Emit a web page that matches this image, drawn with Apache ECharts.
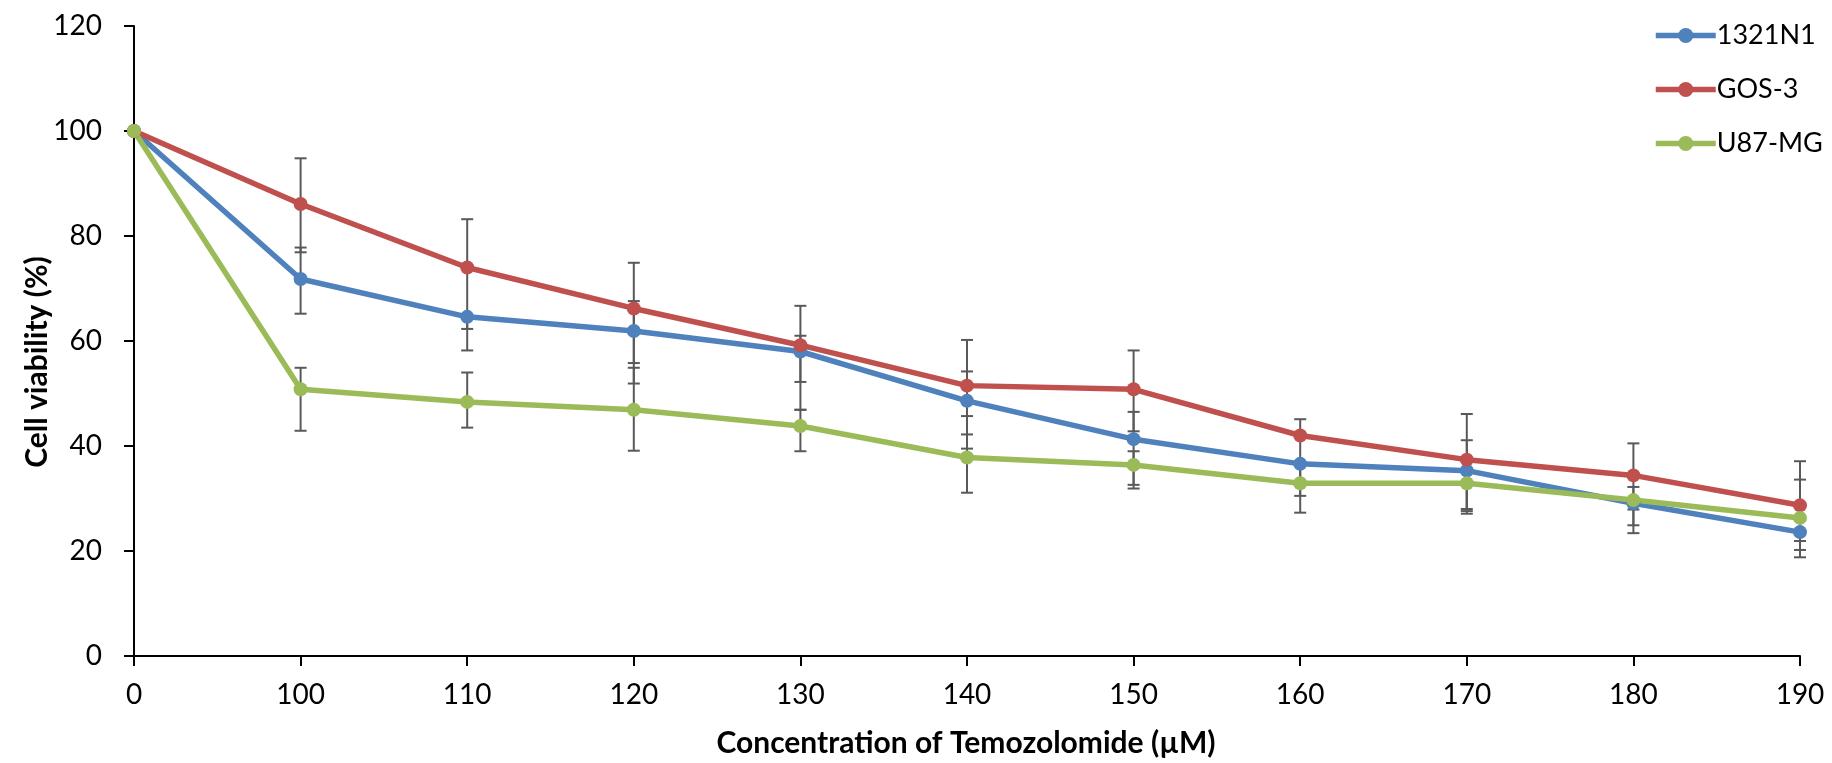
<!DOCTYPE html>
<html>
<head>
<meta charset="utf-8">
<script src="https://cdn.jsdelivr.net/npm/echarts@6/dist/echarts.min.js"></script>
<style>
  html, body { margin: 0; padding: 0; background: #fff; }
  #chart { width: 1832px; height: 763px; }
</style>
</head>
<body>
<div id="chart"></div>
<script>
// Temozolomide concentrations (µM) on the category axis
const categories = ['0', '100', '110', '120', '130', '140', '150', '160', '170', '180', '190'];

// Mean cell viability (%) per cell line
const viability1321N1 = [100, 71.8, 64.6, 61.9, 58.0, 48.6, 41.3, 36.6, 35.3, 29.1, 23.6];
const viabilityGOS3   = [100, 86.1, 74.0, 66.2, 59.2, 51.5, 50.8, 42.0, 37.4, 34.4, 28.7];
const viabilityU87MG  = [100, 50.8, 48.4, 46.9, 43.8, 37.8, 36.4, 32.9, 32.9, 29.7, 26.3];

// Error bar bounds (lower / upper) per cell line
const low1321N1  = [100, 65.2, 58.2, 55.8, 46.9, 45.7, 32.6, 27.3, 27.6, 23.4, 18.8];
const high1321N1 = [100, 77.8, 64.6, 67.6, 61.0, 54.2, 46.5, 36.6, 41.1, 29.1, 23.6];
const lowGOS3    = [100, 76.9, 62.3, 51.9, 52.2, 39.5, 42.8, 30.5, 28.0, 27.9, 20.2];
const highGOS3   = [100, 94.8, 83.2, 74.9, 66.7, 60.2, 58.2, 45.1, 46.1, 40.5, 37.1];
const lowU87MG   = [100, 42.9, 43.5, 39.1, 39.0, 31.1, 31.9, 32.9, 27.1, 24.9, 21.9];
const highU87MG  = [100, 54.9, 54.0, 54.9, 46.9, 42.2, 39.0, 32.9, 32.9, 32.2, 33.6];

// Y axis ticks
const yMin = 0, yMax = 120, yStep = 20;

const seriesNames = ['1321N1', 'GOS-3', 'U87-MG'];
const seriesColors = ['#4F81BD', '#C0504D', '#9BBB59'];
const seriesValues = [viability1321N1, viabilityGOS3, viabilityU87MG];
const seriesLow = [low1321N1, lowGOS3, lowU87MG];
const seriesHigh = [high1321N1, highGOS3, highU87MG];

const FONT = 'Lato, "Open Sans", sans-serif';
const BAR_COLOR = '#595959';
const CAP = 6;

// Vertical whisker with end caps; a cap sitting on the mean is hidden under the marker, so skip it
function errorBarItem(params, api) {
  const x = api.value(0);
  const lo = api.value(1), hi = api.value(2), v = api.value(3);
  if (lo === hi) return null;
  const pLo = api.coord([x, lo]);
  const pHi = api.coord([x, hi]);
  const style = { stroke: BAR_COLOR, lineWidth: 2 };
  const children = [{
    type: 'line',
    shape: { x1: pLo[0], y1: pLo[1], x2: pHi[0], y2: pHi[1] },
    style
  }];
  if (Math.abs(hi - v) > 1e-6) {
    children.push({ type: 'line', shape: { x1: pHi[0] - CAP, y1: pHi[1], x2: pHi[0] + CAP, y2: pHi[1] }, style });
  }
  if (Math.abs(lo - v) > 1e-6) {
    children.push({ type: 'line', shape: { x1: pLo[0] - CAP, y1: pLo[1], x2: pLo[0] + CAP, y2: pLo[1] }, style });
  }
  return { type: 'group', children };
}

const series = [];
seriesNames.forEach((name, i) => {
  series.push({
    name: name + ' error',
    type: 'custom',
    renderItem: errorBarItem,
    z: 1,
    silent: true,
    encode: { x: 0, y: [1, 2] },
    data: categories.map((c, k) => [k, seriesLow[i][k], seriesHigh[i][k], seriesValues[i][k]])
  });
});
seriesNames.forEach((name, i) => {
  series.push({
    name,
    type: 'line',
    z: 3,
    data: seriesValues[i],
    symbol: 'circle',
    symbolSize: 14,
    showSymbol: true,
    lineStyle: { width: 5.5, color: seriesColors[i] },
    itemStyle: { color: seriesColors[i] },
    emphasis: { disabled: true }
  });
});

const chart = echarts.init(document.getElementById('chart'), null, { renderer: 'canvas' });
chart.setOption({
  animation: false,
  backgroundColor: '#ffffff',
  grid: { left: 134, right: 32, top: 26, bottom: 107, containLabel: false },
  legend: {
    data: seriesNames,
    orient: 'vertical',
    left: 1648,
    top: 17,
    itemWidth: 60,
    itemHeight: 19,
    itemGap: 27,
    lineStyle: { width: 5.5 },
    textStyle: { fontFamily: FONT, fontSize: 27, color: '#000', padding: [0, 0, 0, -4] }
  },
  xAxis: {
    type: 'category',
    data: categories,
    boundaryGap: false,
    axisLine: { lineStyle: { color: '#000', width: 2 } },
    axisTick: { show: true, length: 10, alignWithLabel: true, lineStyle: { color: '#000', width: 2 } },
    axisLabel: { margin: 25, fontFamily: FONT, fontSize: 28, color: '#000' },
    splitLine: { show: false }
  },
  yAxis: {
    type: 'value',
    min: yMin,
    max: yMax,
    interval: yStep,
    axisLine: { show: true, lineStyle: { color: '#000', width: 2 } },
    axisTick: { show: true, length: 10, lineStyle: { color: '#000', width: 2 } },
    axisLabel: { margin: 32, fontFamily: FONT, fontSize: 28, color: '#000' },
    splitLine: { show: false }
  },
  graphic: [
    {
      type: 'text',
      x: 37, y: 362,
      rotation: Math.PI / 2,
      style: {
        text: 'Cell viability (%)',
        font: 'bold 30px ' + FONT,
        fill: '#000',
        align: 'center',
        verticalAlign: 'middle'
      }
    },
    {
      type: 'text',
      x: 966, y: 743,
      style: {
        text: 'Concentration of Temozolomide (µM)',
        font: 'bold 30px ' + FONT,
        fill: '#000',
        align: 'center',
        verticalAlign: 'middle'
      }
    }
  ],
  series
});
</script>
</body>
</html>
